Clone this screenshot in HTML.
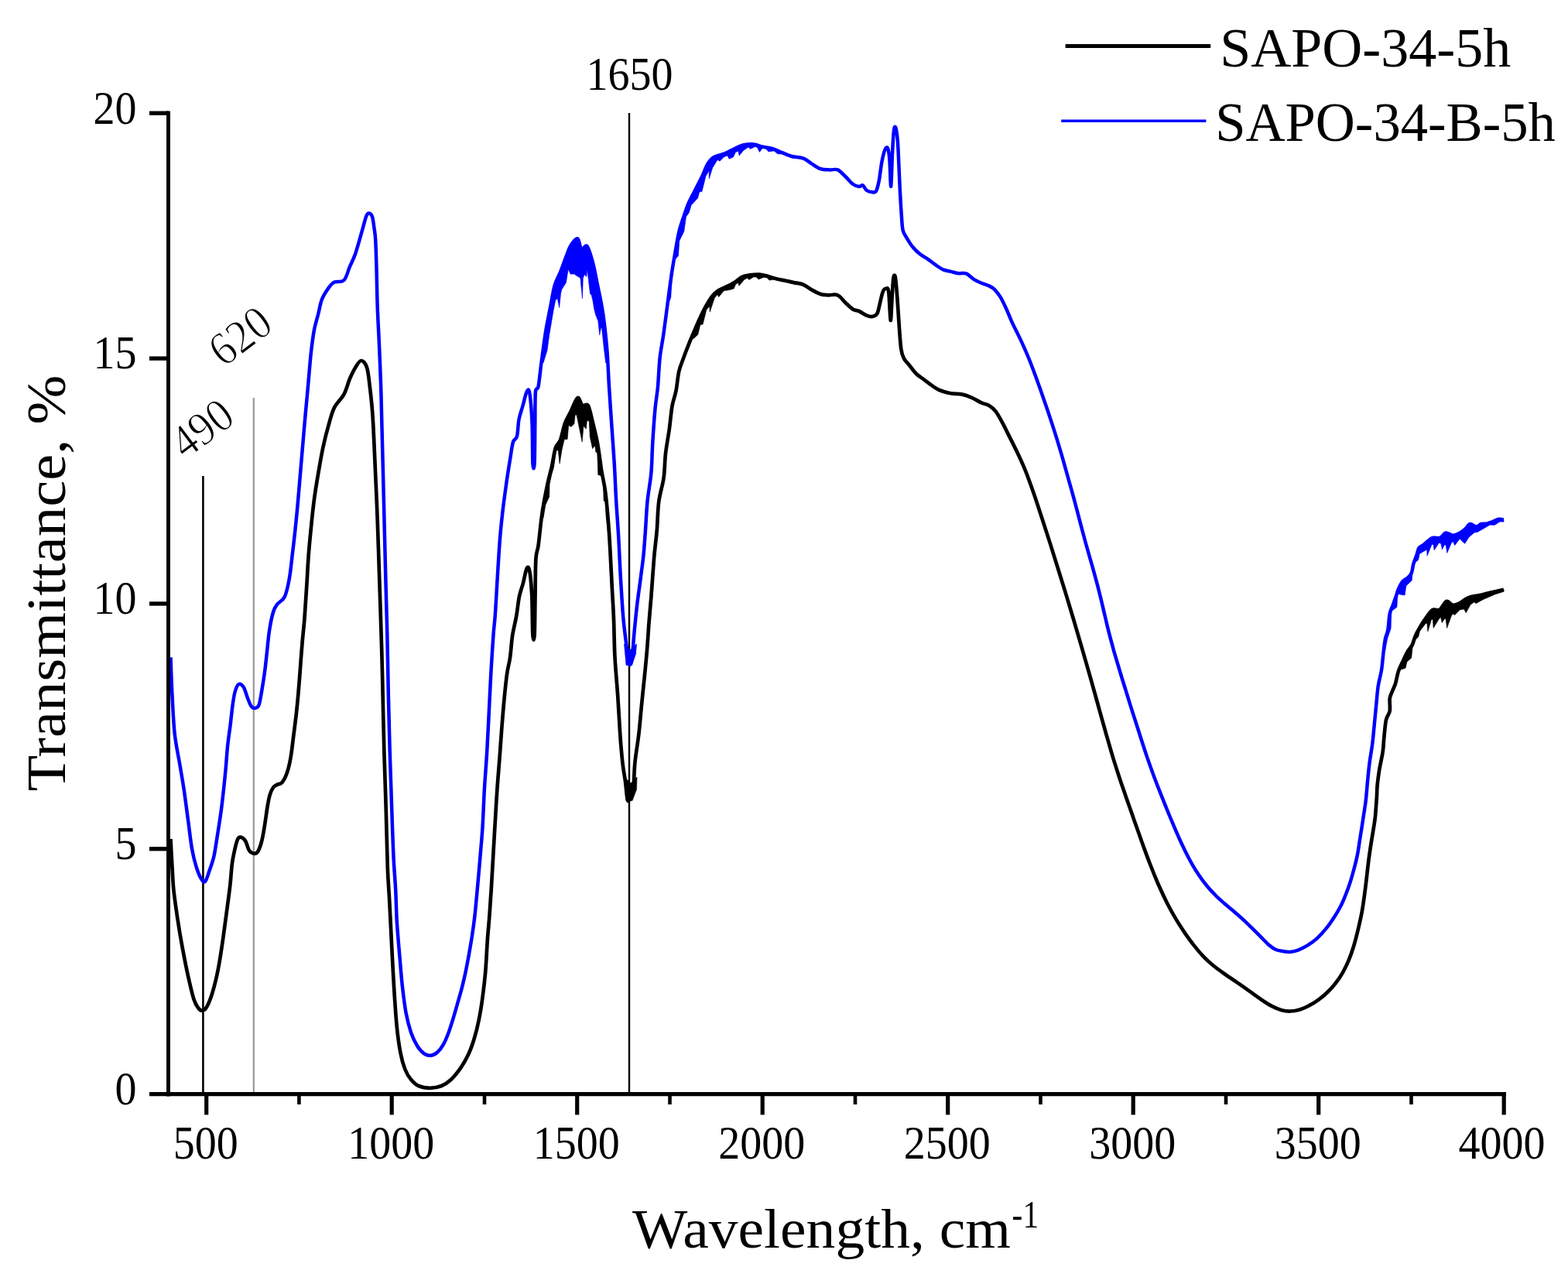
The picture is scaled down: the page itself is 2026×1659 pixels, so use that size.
<!DOCTYPE html>
<html lang="en">
<head>
<meta charset="utf-8">
<title>FTIR spectra: SAPO-34-5h and SAPO-34-B-5h</title>
<style>
html,body{margin:0;padding:0;background:#fff;}
body{width:2026px;height:1659px;overflow:hidden;font-family:'Liberation Serif',serif;}
svg{display:block;}
</style>
</head>
<body>
<svg width="2026" height="1659" viewBox="0 0 2026 1659">
<rect x="0" y="0" width="2026" height="1659" fill="#fff"/>
<line x1="262.4" y1="615" x2="262.4" y2="1413" stroke="#000" stroke-width="2.6"/>
<line x1="327.8" y1="514" x2="327.8" y2="1413" stroke="#999" stroke-width="2.2"/>
<line x1="813" y1="146" x2="813" y2="1413" stroke="#000" stroke-width="2.4"/>
<g fill="none" stroke-linejoin="round" stroke-linecap="butt">
<path id="curve-black" stroke="#000" stroke-width="4.7" d="M220.5 1084.0C220.8 1090.2 221.8 1109.8 222.5 1121.0C223.2 1132.2 223.3 1140.0 224.5 1151.0C225.7 1162.0 227.6 1174.8 229.4 1187.0C231.2 1199.2 233.3 1211.7 235.6 1224.0C237.9 1236.3 240.5 1249.8 243.0 1261.0C245.5 1272.2 248.1 1283.9 250.4 1290.9C252.7 1297.9 254.7 1300.5 256.6 1303.0C258.5 1305.5 260.0 1305.9 261.6 1305.7C263.2 1305.5 264.6 1305.0 266.5 1302.0C268.4 1299.0 270.6 1294.0 272.7 1288.0C274.8 1282.0 277.0 1273.8 278.9 1266.0C280.8 1258.2 282.2 1250.9 283.8 1241.4C285.4 1231.9 287.1 1220.6 288.7 1209.0C290.3 1197.4 292.2 1183.0 293.7 1172.0C295.1 1161.0 296.4 1152.3 297.4 1143.0C298.4 1133.7 298.9 1123.7 299.9 1116.0C300.9 1108.3 302.4 1101.9 303.6 1096.6C304.8 1091.3 306.0 1086.5 307.3 1084.0C308.6 1081.5 309.9 1081.3 311.5 1081.8C313.1 1082.2 315.4 1083.8 317.2 1086.7C319.0 1089.6 320.2 1096.3 322.1 1099.0C324.0 1101.7 326.5 1102.6 328.3 1102.8C330.1 1103.0 331.6 1103.0 333.2 1100.3C334.8 1097.6 336.8 1092.2 338.2 1086.7C339.6 1081.2 340.7 1074.5 341.9 1067.0C343.1 1059.5 344.5 1048.6 345.6 1042.0C346.7 1035.4 347.4 1031.5 348.6 1027.4C349.8 1023.3 351.4 1019.8 353.0 1017.5C354.6 1015.2 356.1 1014.8 358.0 1013.8C359.9 1012.8 362.1 1013.6 364.1 1011.3C366.2 1009.0 368.4 1005.1 370.3 1000.0C372.2 994.9 373.9 988.2 375.3 980.4C376.8 972.6 377.8 962.5 379.0 953.0C380.2 943.5 381.6 933.4 382.7 923.6C383.8 913.8 384.7 904.3 385.6 894.0C386.5 883.7 387.3 872.5 388.1 861.8C388.9 851.1 389.7 840.0 390.6 829.7C391.5 819.4 392.4 812.2 393.4 800.0C394.3 787.8 395.4 770.3 396.3 756.5C397.2 742.7 397.7 730.2 398.7 717.0C399.7 703.8 401.2 689.0 402.4 677.0C403.6 665.0 404.6 655.7 406.0 645.0C407.4 634.3 409.1 624.1 411.0 613.0C412.9 601.9 415.0 589.2 417.3 578.5C419.6 567.8 422.2 557.5 424.7 548.9C427.1 540.2 428.7 533.2 432.0 526.6C435.3 520.0 441.2 515.5 444.5 509.3C447.8 503.1 449.4 495.3 451.9 489.5C454.4 483.7 456.8 478.6 459.3 474.7C461.8 470.8 464.2 466.0 466.7 466.0C469.1 466.0 472.1 469.1 474.0 474.7C475.9 480.3 476.6 489.1 477.8 499.4C479.1 509.7 480.4 520.1 481.5 536.5C482.6 552.9 483.5 575.4 484.5 598.0C485.5 620.6 486.8 647.2 487.7 672.0C488.6 696.8 489.4 721.8 490.2 746.6C491.0 771.4 492.0 800.1 492.6 820.7C493.2 841.3 493.4 844.6 494.0 870.0C494.6 895.4 495.6 943.5 496.4 973.0C497.2 1002.5 498.1 1022.3 498.8 1047.0C499.5 1071.7 500.1 1102.2 500.8 1121.0C501.5 1139.8 502.3 1146.9 503.0 1160.0C503.7 1173.1 504.1 1182.6 505.0 1199.4C505.9 1216.2 507.0 1240.4 508.2 1261.0C509.4 1281.6 510.9 1306.5 512.4 1323.0C513.9 1339.5 515.5 1350.2 517.4 1360.0C519.2 1369.8 521.2 1376.2 523.5 1382.0C525.8 1387.8 528.1 1391.2 531.0 1394.7C533.9 1398.2 536.7 1401.2 540.8 1403.0C544.9 1404.8 550.8 1405.8 555.7 1405.8C560.7 1405.8 566.0 1404.8 570.5 1403.0C575.0 1401.2 578.8 1398.5 582.9 1394.7C587.0 1390.9 591.5 1385.2 595.2 1379.9C598.9 1374.6 602.2 1368.8 605.1 1362.6C608.0 1356.4 610.2 1350.2 612.5 1342.8C614.8 1335.4 616.9 1327.1 618.7 1318.0C620.6 1308.9 622.2 1298.7 623.6 1288.0C625.0 1277.3 626.4 1266.0 627.4 1253.8C628.4 1241.6 629.0 1226.5 629.8 1215.0C630.6 1203.5 631.5 1195.8 632.3 1184.6C633.1 1173.4 633.6 1166.8 634.8 1148.0C635.9 1129.2 638.0 1092.8 639.2 1071.9C640.4 1051.0 641.1 1038.9 642.2 1022.4C643.3 1005.9 644.8 989.5 646.0 973.0C647.2 956.5 648.3 940.1 649.7 923.6C651.1 907.1 653.1 886.3 654.6 874.0C656.1 861.7 657.7 858.9 659.0 850.0C660.3 841.1 660.8 829.7 662.2 820.7C663.6 811.7 665.8 804.3 667.2 796.0C668.7 787.7 669.5 778.0 670.9 771.0C672.3 764.0 674.1 760.2 675.8 754.0C677.4 747.8 679.3 736.5 680.8 734.0C682.2 731.5 683.4 732.8 684.5 739.0C685.6 745.2 686.6 757.4 687.3 771.0C687.9 784.6 687.8 812.2 688.4 820.5C689.0 828.8 690.1 828.8 690.6 820.5C691.1 812.2 691.2 787.4 691.5 771.0C691.8 754.6 691.7 733.0 692.4 721.9C693.1 710.8 694.5 712.9 695.6 704.6C696.8 696.3 698.1 681.5 699.3 672.0C700.5 662.5 701.5 655.9 703.0 647.7C704.5 639.5 706.4 630.5 708.0 623.0C709.6 615.5 711.2 610.4 712.9 603.0C714.5 595.6 716.0 584.2 717.9 578.5C719.8 572.8 722.0 574.0 724.0 568.6C726.0 563.2 727.9 552.6 730.2 546.4C732.5 540.2 734.9 537.0 737.6 531.6C740.3 526.2 743.8 515.3 746.3 514.0C748.8 512.7 750.2 522.3 752.5 524.0C754.8 525.7 757.6 520.3 759.9 524.0C762.1 527.7 764.0 538.1 766.0 546.4C768.0 554.7 770.3 563.3 772.2 573.6C774.1 583.9 775.6 597.8 777.2 608.0C778.9 618.2 780.7 624.3 782.1 635.0C783.5 645.7 784.8 659.6 785.8 672.0C786.8 684.4 787.5 695.0 788.3 709.5C789.1 724.0 790.0 743.9 790.8 759.0C791.6 774.1 792.4 784.9 793.0 800.0C793.6 815.1 793.6 832.9 794.5 849.4C795.4 865.9 797.1 882.4 798.2 898.9C799.3 915.4 800.2 933.9 801.2 948.3C802.2 962.7 803.3 975.1 804.4 985.4C805.5 995.7 807.0 1002.2 808.0 1010.0C809.0 1017.8 809.7 1028.1 810.5 1032.0C811.3 1035.9 811.8 1035.3 813.0 1033.6C814.2 1031.9 816.8 1030.0 818.0 1022.0C819.2 1014.0 819.2 997.7 820.4 985.4C821.6 973.1 824.0 960.7 825.4 948.3C826.8 935.9 827.8 923.4 829.0 911.0C830.2 898.6 831.6 885.8 832.8 874.0C834.0 862.2 835.0 851.5 836.0 840.0C837.0 828.5 837.6 816.5 838.5 805.0C839.4 793.5 840.3 784.9 841.4 771.0C842.5 757.1 843.8 736.3 845.0 721.9C846.2 707.5 847.8 697.2 848.8 684.8C849.8 672.4 849.8 658.8 851.3 647.7C852.8 636.6 856.0 628.3 857.5 618.0C859.0 607.7 858.8 596.7 860.0 586.0C861.2 575.3 863.5 564.1 864.9 553.8C866.3 543.5 867.1 532.2 868.6 524.0C870.1 515.8 872.2 511.8 873.6 504.4C875.0 497.0 875.7 486.6 877.3 479.7C878.9 472.8 881.0 468.7 883.0 463.0C885.0 457.3 887.3 451.4 889.6 445.6C891.9 439.8 894.5 433.8 897.0 428.0C899.5 422.2 901.9 416.3 904.4 411.0C906.9 405.7 909.4 400.5 911.9 396.0C914.4 391.5 916.8 387.1 919.3 383.8C921.8 380.5 923.8 378.5 926.7 376.4C929.6 374.3 932.9 373.3 936.6 371.4C940.3 369.5 945.2 367.3 948.9 365.0C952.6 362.7 955.5 359.4 958.8 357.8C962.1 356.2 965.0 355.9 968.7 355.4C972.4 354.9 977.3 354.4 981.0 354.6C984.7 354.8 987.3 355.7 991.0 356.6C994.7 357.6 999.2 359.3 1003.3 360.3C1007.4 361.3 1012.0 362.0 1015.7 362.8C1019.4 363.6 1021.9 364.2 1025.6 365.0C1029.3 365.8 1034.2 366.2 1037.9 367.7C1041.6 369.2 1044.1 371.8 1047.8 373.9C1051.5 375.9 1056.5 378.8 1060.2 380.0C1063.9 381.2 1066.3 381.1 1070.0 381.3C1073.7 381.5 1078.7 379.7 1082.4 381.3C1086.1 382.9 1089.0 387.9 1092.3 391.0C1095.6 394.1 1099.3 398.0 1102.2 399.8C1105.1 401.6 1107.0 400.7 1109.9 402.0C1112.8 403.3 1116.9 406.5 1119.8 407.7C1122.7 408.9 1124.9 409.4 1127.2 409.0C1129.5 408.6 1131.8 408.1 1133.4 405.2C1135.0 402.3 1135.8 396.3 1137.0 391.6C1138.2 386.9 1139.5 379.9 1140.8 376.8C1142.0 373.7 1143.3 373.0 1144.5 373.0C1145.7 373.0 1147.2 370.0 1148.2 376.8C1149.2 383.6 1150.0 412.7 1150.7 413.9C1151.4 415.1 1152.0 393.3 1152.6 384.2C1153.2 375.1 1153.7 363.8 1154.4 359.5C1155.1 355.2 1156.0 354.2 1156.8 358.3C1157.6 362.4 1158.5 373.7 1159.3 384.2C1160.1 394.7 1161.0 410.2 1161.8 421.3C1162.6 432.4 1163.3 444.0 1164.3 451.0C1165.3 458.0 1166.4 460.0 1168.0 463.3C1169.6 466.6 1171.3 467.4 1174.0 470.7C1176.7 474.0 1180.7 479.7 1184.0 483.0C1187.3 486.3 1190.6 488.0 1193.9 490.5C1197.2 493.0 1200.5 495.6 1203.8 497.9C1207.1 500.1 1209.6 502.3 1213.7 504.0C1217.8 505.7 1223.5 507.4 1228.5 508.3C1233.5 509.2 1238.9 508.7 1243.4 509.6C1247.9 510.5 1251.6 512.0 1255.7 513.8C1259.8 515.6 1264.3 518.7 1268.0 520.4C1271.7 522.1 1274.9 522.1 1278.0 524.0C1281.1 525.9 1283.7 527.9 1286.6 531.6C1289.5 535.3 1292.2 540.7 1295.3 546.4C1298.4 552.1 1301.8 559.3 1305.0 565.6C1308.2 572.0 1311.4 578.2 1314.4 584.6C1317.5 591.0 1320.3 597.1 1323.1 603.7C1325.9 610.3 1328.4 616.9 1331.0 624.2C1333.7 631.4 1336.2 639.0 1339.0 647.2C1341.7 655.4 1344.6 664.3 1347.6 673.6C1350.6 682.9 1353.9 692.8 1357.1 702.9C1360.3 713.0 1363.6 723.6 1366.9 734.2C1370.2 744.7 1373.5 755.4 1376.9 766.4C1380.2 777.4 1383.6 788.6 1387.1 800.2C1390.5 811.8 1394.1 823.9 1397.6 836.1C1401.1 848.3 1404.8 860.9 1408.3 873.4C1411.8 885.9 1415.4 898.7 1418.8 911.0C1422.2 923.2 1425.7 935.7 1428.8 946.8C1432.0 958.0 1434.9 968.3 1437.8 977.9C1440.7 987.4 1443.3 995.3 1446.1 1004.0C1449.0 1012.7 1451.9 1020.9 1455.0 1029.9C1458.1 1038.8 1461.5 1048.4 1464.8 1057.9C1468.2 1067.4 1471.6 1077.2 1475.0 1086.8C1478.5 1096.4 1482.0 1106.1 1485.6 1115.5C1489.2 1124.8 1493.0 1134.2 1496.7 1142.8C1500.5 1151.4 1504.4 1159.7 1508.2 1167.2C1512.1 1174.8 1515.9 1181.6 1519.8 1188.1C1523.7 1194.6 1527.5 1200.4 1531.4 1206.1C1535.3 1211.7 1539.1 1217.0 1543.0 1221.9C1546.8 1226.8 1550.6 1231.3 1554.7 1235.6C1558.7 1239.8 1562.8 1243.6 1567.3 1247.3C1571.8 1251.0 1576.6 1254.4 1581.7 1258.0C1586.7 1261.6 1592.3 1265.1 1597.7 1268.9C1603.1 1272.6 1608.8 1276.6 1614.1 1280.4C1619.4 1284.2 1624.6 1288.2 1629.6 1291.5C1634.5 1294.8 1639.2 1297.9 1643.6 1300.2C1648.0 1302.5 1652.1 1304.2 1656.1 1305.2C1660.1 1306.3 1663.8 1306.7 1667.7 1306.5C1671.6 1306.4 1675.5 1305.6 1679.5 1304.4C1683.4 1303.2 1687.6 1301.4 1691.6 1299.2C1695.7 1297.1 1699.9 1294.5 1703.8 1291.6C1707.8 1288.7 1711.8 1285.4 1715.5 1281.8C1719.1 1278.2 1722.7 1274.3 1725.9 1270.0C1729.2 1265.8 1732.3 1261.2 1735.1 1256.3C1737.9 1251.3 1740.5 1246.0 1742.8 1240.4C1745.2 1234.7 1747.2 1228.8 1749.2 1222.3C1751.1 1215.9 1752.9 1209.0 1754.6 1201.8C1756.3 1194.5 1758.1 1186.9 1759.6 1179.0C1761.1 1171.1 1762.2 1162.6 1763.3 1154.4C1764.4 1146.2 1765.5 1136.7 1766.3 1129.7C1767.1 1122.7 1767.6 1117.9 1768.3 1112.4C1769.0 1106.9 1769.5 1103.3 1770.5 1096.6C1771.5 1089.8 1773.4 1078.8 1774.5 1071.9C1775.6 1065.1 1776.2 1062.3 1776.9 1055.5C1777.6 1048.7 1778.3 1037.8 1778.8 1031.0C1779.2 1024.2 1779.1 1020.8 1779.6 1015.0C1780.1 1009.2 1781.2 1001.3 1782.0 996.0C1782.8 990.7 1783.7 987.3 1784.5 983.0C1785.3 978.7 1786.2 975.4 1786.9 970.0C1787.6 964.6 1787.8 957.6 1788.5 950.9C1789.2 944.2 1789.8 935.4 1791.0 930.0C1792.2 924.6 1794.9 923.3 1795.7 918.7C1796.5 914.1 1795.2 906.9 1795.7 902.6C1796.2 898.3 1797.8 896.2 1799.0 893.0C1800.2 889.8 1801.7 887.6 1803.0 883.3C1804.3 879.0 1805.4 871.8 1807.0 867.0C1808.6 862.2 1810.6 858.6 1812.6 854.4C1814.6 850.1 1817.0 845.0 1819.0 841.5C1821.0 838.0 1823.1 836.6 1824.7 833.4C1826.3 830.1 1827.1 825.7 1828.7 822.0C1830.3 818.3 1832.2 814.7 1834.4 811.0C1836.6 807.3 1838.8 803.5 1841.6 799.7C1844.4 795.9 1847.9 790.0 1851.0 788.0C1854.1 786.0 1857.0 789.8 1860.0 788.0C1863.0 786.2 1866.2 778.0 1869.0 777.0C1871.8 776.0 1874.3 781.3 1877.0 781.8C1879.7 782.3 1882.3 781.2 1885.0 780.0C1887.7 778.8 1890.6 776.0 1893.0 774.6C1895.4 773.2 1896.3 772.3 1899.5 771.4C1902.7 770.5 1908.1 770.0 1912.4 769.0C1916.7 768.0 1921.3 766.7 1925.3 765.7C1929.3 764.8 1933.5 764.0 1936.5 763.3C1939.5 762.6 1941.9 762.0 1943.0 761.7"/>
<path fill="#000" stroke="#000" stroke-width="0.6" d="M699.3 672.0L703.0 647.7L708.0 623.0L712.9 603.0L717.9 578.5L724.0 568.6L730.2 546.4L737.6 531.6L746.3 514.0L752.5 524.0L759.9 524.0L766.0 546.4L772.2 573.6L777.2 608.0L782.1 635.0L785.8 672.0L788.3 709.5L783.2 668.0L782.4 647.3L780.1 647.2L779.3 614.8L777.0 614.8L772.8 613.5L771.7 584.3L769.9 584.3L768.7 575.6L765.6 579.8L762.3 564.6L761.2 543.8L758.4 543.7L757.3 554.2L754.0 550.3L752.2 571.1L745.0 536.0L743.1 536.2L741.9 547.7L737.9 551.4L734.7 549.5L733.1 567.6L729.2 567.8L726.2 580.3L723.1 599.2L721.3 581.9L718.6 582.0L715.5 603.9L712.9 612.5L710.1 625.5L709.7 641.8L704.8 652.6L702.1 668.9ZM897.0 428.0L904.4 411.0L911.9 396.0L919.3 383.8L926.7 376.4L936.6 371.4L948.9 365.0L958.8 357.8L968.7 355.4L981.0 354.6L991.0 356.6L1003.3 360.3L1015.7 362.8L1025.6 365.0L1029.3 368.1L1014.6 364.3L1000.0 361.0L994.0 362.1L990.9 358.8L987.0 358.2L980.0 360.9L977.4 358.0L973.6 357.9L968.0 361.4L965.6 359.2L961.7 361.3L954.9 369.3L953.8 365.4L950.7 367.2L948.1 373.0L942.8 374.5L935.4 375.7L928.5 383.8L927.1 380.6L923.3 384.9L917.2 403.2L916.9 395.7L912.8 400.3L908.1 419.0L904.8 419.7L901.8 432.2L895.7 437.9ZM1807.0 867.0L1812.6 854.4L1819.0 841.5L1824.7 833.4L1828.7 822.0L1834.4 811.0L1841.6 799.7L1851.0 788.0L1860.0 788.0L1869.0 777.0L1877.0 781.8L1885.0 780.0L1893.0 774.6L1899.5 771.4L1912.4 769.0L1925.3 765.7L1936.5 763.3L1943.0 761.7L1942.8 764.4L1931.5 768.1L1916.6 774.5L1907.2 779.7L1904.7 778.1L1900.0 781.3L1894.2 791.8L1891.7 787.0L1886.2 787.9L1879.6 794.8L1877.8 793.2L1875.7 794.8L1869.6 811.5L1868.0 799.2L1866.4 799.8L1863.2 804.5L1861.6 797.6L1859.3 799.8L1852.1 811.4L1851.4 800.7L1849.7 800.0L1844.8 815.9L1843.9 805.3L1842.2 805.5L1834.5 815.4L1832.6 823.1L1828.4 826.8L1825.1 836.2L1823.7 850.1L1817.9 855.2L1816.0 863.2L1809.1 865.4ZM806.8 1004.0L809.0 1034.5L817.0 1034.5L822.5 1020.0L823.0 1004.0L815.0 1012.0Z"/>
<path id="curve-blue" stroke="#0000ff" stroke-width="4.5" d="M220.5 849.4C220.8 857.6 221.6 882.4 222.5 898.9C223.4 915.4 224.1 933.9 225.7 948.3C227.3 962.7 229.8 973.0 231.9 985.4C234.0 997.8 236.2 1010.0 238.0 1022.4C239.8 1034.8 241.3 1047.1 243.0 1059.5C244.7 1071.9 246.2 1086.3 248.0 1096.6C249.8 1106.9 251.9 1114.7 254.0 1121.3C256.1 1127.9 258.4 1133.1 260.3 1136.0C262.2 1138.9 263.7 1140.3 265.3 1138.6C266.9 1136.9 268.4 1131.3 270.2 1126.0C272.0 1120.7 274.5 1114.7 276.4 1106.5C278.2 1098.3 279.7 1086.7 281.3 1076.8C282.9 1066.9 284.6 1056.1 285.8 1047.0C287.0 1037.9 287.7 1031.4 288.7 1022.4C289.7 1013.4 290.8 1002.7 291.7 992.8C292.6 982.9 293.2 972.1 294.2 963.0C295.1 953.9 296.3 947.1 297.4 938.4C298.5 929.7 299.6 918.4 300.6 911.0C301.6 903.6 302.3 898.5 303.6 894.0C304.9 889.5 306.6 885.0 308.5 884.0C310.4 883.0 312.8 884.9 314.7 887.7C316.6 890.5 318.0 896.9 319.6 901.0C321.2 905.1 323.0 910.2 324.6 912.5C326.2 914.8 327.9 915.2 329.5 915.0C331.1 914.8 333.1 914.5 334.5 911.0C335.9 907.5 336.8 901.0 338.0 894.0C339.2 887.0 340.7 877.7 341.9 869.0C343.1 860.3 344.0 851.0 345.0 842.0C346.0 833.0 346.7 823.5 348.0 815.0C349.3 806.5 351.3 796.7 353.0 791.0C354.7 785.3 355.5 784.3 358.0 781.0C360.5 777.7 365.1 776.7 367.8 771.0C370.5 765.3 372.4 755.6 374.0 746.6C375.6 737.6 376.5 727.3 377.7 717.0C378.9 706.7 380.2 696.3 381.4 684.8C382.6 673.2 383.8 661.3 385.0 647.7C386.2 634.1 387.5 618.6 388.8 603.0C390.1 587.4 391.6 570.2 393.0 553.8C394.4 537.4 396.2 518.4 397.5 504.4C398.8 490.4 399.7 478.9 400.5 470.0C401.3 461.1 401.5 458.3 402.4 451.0C403.3 443.7 404.6 433.4 406.0 426.0C407.4 418.6 409.3 413.1 411.0 406.5C412.7 399.9 413.7 392.5 416.0 386.7C418.3 380.9 422.0 375.6 424.7 371.9C427.4 368.2 428.7 366.1 432.0 364.5C435.3 362.9 441.2 365.3 444.5 362.0C447.8 358.7 449.4 350.5 451.9 344.7C454.4 338.9 456.6 335.2 459.3 327.4C462.0 319.6 465.7 305.6 468.0 297.7C470.3 289.8 471.6 283.7 473.0 280.0C474.4 276.3 475.3 275.5 476.6 275.5C477.9 275.5 479.9 276.8 481.0 280.0C482.1 283.2 482.8 290.0 483.5 295.0C484.2 300.0 484.7 301.3 485.2 310.0C485.7 318.7 486.1 332.6 486.5 347.0C486.9 361.4 487.1 380.1 487.7 396.6C488.3 413.1 489.3 429.5 490.0 446.0C490.7 462.5 491.4 478.3 492.0 495.5C492.6 512.7 492.8 523.6 493.4 549.0C494.0 574.4 495.1 614.8 495.9 647.7C496.7 680.6 497.6 717.9 498.3 746.6C499.0 775.3 499.7 794.4 500.3 820.0C500.9 845.6 501.3 875.4 501.9 900.0C502.4 924.6 503.0 947.8 503.6 967.5C504.2 987.2 504.7 1001.3 505.3 1018.2C505.9 1035.1 506.4 1053.3 507.0 1068.8C507.6 1084.3 508.0 1097.5 508.7 1111.0C509.4 1124.5 510.5 1136.5 511.2 1150.0C511.9 1163.5 512.0 1178.1 512.9 1192.2C513.8 1206.3 515.1 1220.7 516.3 1234.4C517.5 1248.1 518.5 1262.2 519.9 1274.5C521.3 1286.8 522.7 1298.4 524.5 1308.3C526.4 1318.2 528.6 1326.7 531.0 1334.0C533.5 1341.3 536.6 1347.4 539.5 1352.0C542.4 1356.5 545.5 1359.7 548.4 1361.6C551.3 1363.6 554.0 1364.1 556.8 1363.7C559.6 1363.4 562.6 1361.9 565.2 1359.5C567.9 1357.2 570.5 1353.7 572.8 1349.6C575.1 1345.6 577.2 1340.6 579.2 1335.3C581.2 1330.0 583.0 1324.1 584.9 1318.0C586.8 1311.8 588.7 1305.1 590.6 1298.5C592.5 1291.9 594.5 1285.2 596.3 1278.3C598.1 1271.4 599.7 1264.6 601.3 1257.2C602.9 1249.8 604.3 1242.0 605.8 1234.0C607.2 1225.9 608.7 1217.4 610.0 1209.0C611.3 1200.6 612.4 1192.8 613.4 1183.8C614.4 1174.8 615.1 1167.1 616.2 1155.0C617.3 1142.9 618.9 1125.4 620.1 1111.0C621.3 1096.6 622.5 1084.3 623.5 1068.8C624.5 1053.3 625.0 1035.1 626.0 1018.2C627.0 1001.3 628.3 987.2 629.4 967.5C630.5 947.8 631.9 917.6 632.8 900.0C633.7 882.4 634.0 875.1 634.8 861.8C635.6 848.5 636.7 831.0 637.5 820.0C638.3 809.0 638.8 808.2 639.7 796.0C640.6 783.8 641.7 763.1 642.7 746.6C643.7 730.1 644.8 711.4 645.9 697.0C647.0 682.6 648.2 672.3 649.6 660.0C651.0 647.7 652.9 634.5 654.5 623.0C656.1 611.5 658.1 599.6 659.5 590.9C660.9 582.2 661.6 575.5 663.0 571.0C664.4 566.5 666.7 568.6 668.0 563.7C669.3 558.8 669.3 548.0 670.6 541.4C671.9 534.8 673.9 530.0 675.6 524.0C677.3 518.0 679.3 508.1 680.8 505.6C682.3 503.1 683.4 501.8 684.5 509.0C685.6 516.2 687.0 533.9 687.6 548.9C688.2 563.9 687.9 590.6 688.4 599.0C688.9 607.4 690.1 607.4 690.6 599.0C691.1 590.6 691.1 564.3 691.3 548.9C691.5 533.5 691.2 515.0 691.9 506.8C692.6 498.6 694.4 505.5 695.6 499.4C696.8 493.3 698.2 478.2 699.3 470.0C700.4 461.8 701.0 457.4 702.0 450.0C703.0 442.6 703.9 435.2 705.5 425.8C707.1 416.4 709.9 403.2 711.7 393.7C713.6 384.2 714.6 376.0 716.6 369.0C718.6 362.0 721.5 357.8 724.0 351.6C726.5 345.4 729.1 337.7 731.4 331.9C733.7 326.1 735.1 320.9 737.6 317.0C740.1 313.1 744.0 307.6 746.3 308.4C748.6 309.2 749.2 320.4 751.2 322.0C753.2 323.6 756.1 315.4 758.6 318.3C761.1 321.2 763.7 330.9 766.0 339.3C768.3 347.8 770.3 359.9 772.2 369.0C774.1 378.1 775.8 385.5 777.2 393.7C778.7 401.9 779.7 408.1 780.9 418.4C782.1 428.7 783.6 442.0 784.6 455.5C785.6 469.0 786.0 483.8 787.0 499.4C788.0 515.0 789.2 532.5 790.3 548.9C791.4 565.3 792.7 581.5 793.7 598.0C794.7 614.5 795.2 631.2 796.2 647.7C797.2 664.2 798.5 680.5 799.4 697.0C800.3 713.5 800.9 730.1 801.9 746.6C802.9 763.1 803.9 781.6 805.1 796.0C806.3 810.4 808.0 822.7 809.3 833.0C810.6 843.3 811.8 855.2 813.0 858.0C814.2 860.8 815.7 856.2 816.7 850.0C817.7 843.8 818.2 831.8 819.2 820.7C820.2 809.7 821.5 796.1 822.9 783.7C824.3 771.4 826.4 757.7 827.8 746.6C829.2 735.5 830.5 727.3 831.5 717.0C832.5 706.7 833.2 696.3 834.0 684.8C834.8 673.2 835.3 660.1 836.5 647.7C837.7 635.4 840.3 623.1 841.4 610.7C842.5 598.4 842.4 587.2 843.2 573.6C844.0 560.0 845.3 541.4 846.4 529.0C847.5 516.6 849.0 510.5 850.0 499.4C851.0 488.3 851.4 473.8 852.6 462.4C853.9 450.9 855.9 442.1 857.5 430.7C859.1 419.2 860.8 406.0 862.4 393.7C864.0 381.4 865.8 367.7 867.4 356.6C869.0 345.5 870.6 336.4 872.3 326.9C873.9 317.4 875.4 307.5 877.3 299.7C879.1 291.9 881.3 286.2 883.4 280.0C885.5 273.8 887.5 267.6 889.6 262.7C891.7 257.8 893.7 254.4 895.8 250.3C897.9 246.2 899.9 242.1 902.0 238.0C904.1 233.9 906.2 229.9 908.2 225.6C910.2 221.3 912.0 215.7 914.3 212.0C916.6 208.3 918.1 205.7 921.8 203.4C925.5 201.1 932.1 200.3 936.6 198.4C941.1 196.5 944.8 194.0 948.9 192.2C953.0 190.3 957.2 188.2 961.3 187.3C965.4 186.4 969.6 186.1 973.7 186.5C977.8 186.9 981.9 188.9 986.0 189.8C990.1 190.8 994.3 191.0 998.4 192.2C1002.5 193.4 1006.6 195.6 1010.7 197.2C1014.8 198.8 1018.6 200.8 1023.1 202.0C1027.6 203.2 1033.8 203.1 1037.9 204.6C1042.0 206.1 1044.1 208.5 1047.8 210.8C1051.5 213.1 1056.1 216.8 1060.2 218.2C1064.3 219.6 1068.8 219.2 1072.5 219.4C1076.2 219.6 1079.1 218.0 1082.4 219.4C1085.7 220.8 1089.0 224.9 1092.3 228.0C1095.6 231.1 1099.3 235.8 1102.2 238.0C1105.1 240.2 1107.8 240.7 1109.9 240.9C1112.0 241.2 1113.2 238.7 1114.8 239.5C1116.4 240.3 1117.7 244.5 1119.8 246.0C1121.9 247.5 1125.2 248.1 1127.2 248.3C1129.2 248.5 1130.6 249.5 1132.0 247.0C1133.4 244.5 1134.5 239.9 1135.8 233.5C1137.0 227.1 1138.2 215.4 1139.5 208.8C1140.8 202.2 1142.0 196.8 1143.3 193.9C1144.5 191.0 1146.0 189.3 1147.0 191.4C1148.0 193.5 1148.7 198.1 1149.4 206.3C1150.1 214.6 1150.6 242.1 1151.2 240.9C1151.8 239.7 1152.4 210.9 1153.0 198.9C1153.6 186.9 1154.2 174.9 1154.9 169.2C1155.6 163.5 1156.5 162.7 1157.3 164.8C1158.1 166.9 1159.1 173.9 1159.8 181.6C1160.5 189.3 1160.8 200.1 1161.3 211.2C1161.8 222.3 1162.4 237.2 1163.0 248.3C1163.6 259.4 1164.2 269.8 1164.8 278.0C1165.4 286.2 1165.5 292.8 1166.7 297.7C1167.9 302.6 1169.7 304.1 1171.7 307.6C1173.8 311.1 1176.1 315.2 1179.0 318.7C1181.9 322.2 1185.7 325.9 1189.0 328.6C1192.3 331.3 1195.6 332.5 1198.9 334.8C1202.2 337.1 1205.5 339.9 1208.8 342.2C1212.1 344.5 1215.3 346.9 1218.6 348.4C1221.9 349.8 1225.2 350.1 1228.5 350.9C1231.8 351.7 1235.1 352.9 1238.4 353.3C1241.7 353.7 1245.0 352.1 1248.3 353.3C1251.6 354.6 1254.9 358.7 1258.2 360.8C1261.5 362.9 1264.7 364.3 1268.0 365.7C1271.3 367.1 1275.1 368.0 1278.0 369.4C1280.9 370.8 1282.9 371.8 1285.4 374.3C1287.9 376.8 1290.3 380.1 1292.8 384.2C1295.3 388.3 1297.7 393.6 1300.2 399.0C1302.7 404.4 1305.1 411.0 1307.6 416.4C1310.1 421.8 1312.5 426.2 1315.0 431.4C1317.5 436.5 1320.0 441.6 1322.4 447.1C1324.9 452.6 1327.4 458.3 1329.9 464.5C1332.4 470.7 1334.8 477.2 1337.4 484.2C1340.1 491.3 1342.7 498.9 1345.5 506.8C1348.3 514.8 1351.3 523.4 1354.2 532.0C1357.1 540.7 1360.1 549.8 1362.9 558.6C1365.7 567.4 1368.4 576.4 1370.9 584.9C1373.4 593.4 1375.6 601.6 1377.9 609.6C1380.1 617.6 1382.3 625.1 1384.4 632.7C1386.5 640.3 1388.5 647.6 1390.5 655.2C1392.5 662.7 1394.4 670.3 1396.5 678.1C1398.6 685.9 1400.7 694.0 1402.9 702.0C1405.1 709.9 1407.5 718.0 1409.7 725.8C1411.9 733.6 1414.1 741.3 1416.1 748.9C1418.2 756.5 1420.1 764.0 1421.9 771.5C1423.8 779.0 1425.4 786.3 1427.2 793.8C1429.0 801.2 1430.5 808.3 1432.6 816.4C1434.7 824.6 1437.0 833.0 1439.7 842.8C1442.5 852.5 1445.8 863.6 1449.3 875.0C1452.8 886.3 1456.8 899.1 1460.5 911.1C1464.3 923.1 1468.3 935.7 1471.9 946.8C1475.4 958.0 1478.8 968.3 1482.0 977.9C1485.3 987.4 1488.1 995.3 1491.3 1004.0C1494.6 1012.7 1497.8 1020.9 1501.4 1029.9C1504.9 1038.8 1508.8 1048.4 1512.6 1057.5C1516.4 1066.6 1520.3 1076.0 1524.2 1084.5C1528.0 1092.9 1531.9 1100.9 1535.7 1108.2C1539.6 1115.5 1543.4 1122.1 1547.3 1128.0C1551.2 1134.0 1555.0 1139.3 1558.9 1144.0C1562.8 1148.8 1566.6 1152.9 1570.5 1156.7C1574.3 1160.6 1578.2 1163.9 1582.0 1167.3C1585.9 1170.6 1589.7 1173.7 1593.6 1177.0C1597.5 1180.3 1601.3 1183.7 1605.2 1187.2C1609.0 1190.7 1612.9 1194.5 1616.7 1198.2C1620.6 1202.0 1624.4 1205.9 1628.3 1209.7C1632.2 1213.6 1636.5 1218.4 1639.9 1221.3C1643.3 1224.2 1645.6 1225.7 1648.6 1227.0C1651.6 1228.3 1655.0 1228.6 1658.0 1229.1C1661.0 1229.6 1663.7 1230.1 1666.9 1229.9C1670.1 1229.6 1673.5 1229.0 1677.2 1227.6C1680.9 1226.3 1685.1 1224.2 1689.2 1221.7C1693.2 1219.2 1697.5 1216.2 1701.5 1212.6C1705.5 1209.0 1709.6 1204.5 1713.3 1199.9C1717.0 1195.4 1720.6 1190.1 1723.8 1185.2C1727.0 1180.3 1729.9 1175.4 1732.4 1170.5C1735.0 1165.5 1736.9 1160.7 1738.9 1155.6C1740.9 1150.6 1742.7 1145.7 1744.5 1140.1C1746.3 1134.5 1748.1 1128.0 1749.7 1122.0C1751.3 1116.0 1752.8 1110.3 1754.0 1104.0C1755.2 1097.7 1756.0 1091.4 1757.2 1084.0C1758.4 1076.6 1759.8 1067.7 1761.0 1059.5C1762.2 1051.3 1763.7 1043.0 1764.7 1034.8C1765.7 1026.5 1766.2 1018.2 1767.0 1010.0C1767.8 1001.8 1768.5 993.6 1769.6 985.4C1770.6 977.2 1772.3 968.9 1773.3 960.7C1774.3 952.5 1775.0 944.3 1775.8 936.0C1776.6 927.7 1777.4 919.2 1778.2 911.0C1779.0 902.8 1779.6 894.0 1780.7 886.5C1781.8 879.0 1783.8 873.5 1785.0 866.0C1786.2 858.5 1786.9 848.2 1787.7 841.4C1788.5 834.6 1789.1 829.6 1790.0 825.0C1790.9 820.4 1792.3 819.3 1793.3 814.0C1794.2 808.7 1794.6 798.4 1795.7 793.0C1796.8 787.6 1798.5 785.5 1799.8 781.8C1801.1 778.1 1802.6 774.1 1803.8 770.6C1805.0 767.1 1805.5 764.2 1807.0 760.9C1808.5 757.6 1810.6 753.4 1812.6 751.0C1814.6 748.6 1817.1 748.2 1819.0 746.4C1820.9 744.6 1822.7 743.0 1823.9 740.0C1825.1 737.0 1825.2 732.5 1826.3 728.7C1827.4 725.0 1829.1 721.0 1830.3 717.5C1831.5 714.0 1832.2 709.9 1833.5 707.8C1834.8 705.6 1836.9 705.7 1838.4 704.6C1839.9 703.5 1840.3 703.0 1842.4 701.4C1844.5 699.8 1847.9 696.0 1851.0 694.9C1854.1 693.8 1858.1 696.0 1860.9 694.9C1863.7 693.8 1865.3 689.0 1868.0 688.5C1870.7 688.0 1874.2 691.6 1877.0 691.7C1879.8 691.8 1882.3 690.6 1885.0 689.3C1887.7 688.0 1890.6 685.8 1893.0 683.7C1895.4 681.7 1897.1 677.5 1899.5 677.0C1901.9 676.5 1905.2 680.5 1907.6 680.5C1910.0 680.5 1911.6 677.7 1914.0 677.0C1916.4 676.3 1919.6 676.9 1922.0 676.4C1924.4 675.9 1926.1 674.9 1928.5 674.0C1930.9 673.1 1934.1 671.2 1936.5 670.8C1938.9 670.4 1941.9 671.5 1943.0 671.6"/>
<path fill="#0000ff" stroke="#0000ff" stroke-width="0.6" d="M702.0 450.0L705.5 425.8L711.7 393.7L716.6 369.0L724.0 351.6L731.4 331.9L737.6 317.0L746.3 308.4L751.2 322.0L758.6 318.3L766.0 339.3L772.2 369.0L777.2 393.7L780.9 418.4L784.6 455.5L782.7 469.0L780.1 447.9L777.5 423.4L776.4 423.9L774.8 432.9L772.8 414.8L769.6 406.8L767.8 399.7L766.0 388.7L764.3 381.6L762.5 379.6L758.8 348.3L757.7 357.6L755.3 354.5L753.3 359.4L752.5 385.7L749.9 359.3L741.4 353.9L737.2 354.2L734.2 348.1L731.4 365.2L725.7 374.3L724.5 379.7L722.7 397.6L720.3 385.8L717.9 387.4L715.2 400.5L709.7 432.9L707.1 452.6L702.0 468.9ZM857.5 430.7L862.4 393.7L867.4 356.6L872.3 326.9L877.3 299.7L883.4 280.0L889.6 262.7L895.8 250.3L902.0 238.0L908.2 225.6L914.3 212.0L921.8 203.4L936.6 198.4L948.9 192.2L961.3 187.3L973.7 186.5L986.0 189.8L998.4 192.2L1010.7 197.2L1023.1 202.0L1029.2 204.8L1022.7 203.9L1011.3 199.1L1004.7 198.8L1000.1 194.9L992.9 195.9L989.1 191.4L985.3 191.6L981.4 196.5L978.4 190.5L975.7 189.6L969.4 192.6L967.1 190.1L960.9 194.2L955.1 200.9L953.9 195.3L950.4 196.7L947.5 203.0L942.0 205.3L940.0 200.9L935.6 202.8L930.0 208.3L927.1 206.4L920.6 216.9L916.3 231.0L916.1 220.7L912.0 227.5L907.0 247.4L903.7 248.1L901.7 255.8L893.2 265.1L890.3 274.8L886.5 280.1L883.8 299.1L877.8 311.3L876.5 330.5L871.6 335.9L868.7 349.0L866.8 384.5L862.7 394.6L860.4 410.9ZM1787.7 841.4L1790.0 825.0L1793.3 814.0L1795.7 793.0L1799.8 781.8L1803.8 770.6L1807.0 760.9L1812.6 751.0L1819.0 746.4L1823.9 740.0L1826.3 728.7L1830.3 717.5L1833.5 707.8L1838.4 704.6L1842.4 701.4L1851.0 694.9L1860.9 694.9L1868.0 688.5L1877.0 691.7L1885.0 689.3L1893.0 683.7L1899.5 677.0L1907.6 680.5L1914.0 677.0L1922.0 676.4L1928.5 674.0L1936.5 670.8L1943.0 671.6L1943.0 674.2L1938.1 674.0L1931.2 678.4L1925.1 678.2L1916.9 683.0L1908.7 687.7L1905.0 688.1L1897.9 694.2L1892.8 702.3L1890.2 700.3L1886.1 696.3L1879.6 704.7L1877.8 699.9L1875.7 700.7L1869.8 714.4L1868.2 704.6L1866.6 703.8L1863.4 709.9L1861.8 702.2L1859.3 701.4L1853.2 710.8L1851.9 703.5L1850.1 703.4L1844.0 718.3L1843.8 710.5L1842.0 711.1L1834.3 715.6L1832.5 723.6L1828.4 726.9L1825.2 739.9L1824.2 750.0L1816.9 756.9L1815.1 769.0L1811.1 768.5L1806.0 767.2L1804.9 784.5L1797.8 789.8L1797.1 812.3L1792.7 825.1L1789.5 841.3ZM806.5 832.0L809.0 859.5L816.5 859.5L821.5 845.0L822.5 832.0L814.0 840.0Z"/>
</g>
<g stroke="#000" fill="none"><line x1="217.5" y1="143.5" x2="217.5" y2="1416.4" stroke-width="4.9"/><line x1="193.0" y1="1413.7" x2="1946.0" y2="1413.7" stroke-width="5.3"/><line x1="193.0" y1="1096.8" x2="217.5" y2="1096.8" stroke-width="5.3"/><line x1="193.0" y1="780.0" x2="217.5" y2="780.0" stroke-width="5.3"/><line x1="193.0" y1="463.1" x2="217.5" y2="463.1" stroke-width="5.3"/><line x1="193.0" y1="146.2" x2="217.5" y2="146.2" stroke-width="5.3"/><line x1="266.7" y1="1413.7" x2="266.7" y2="1440.4" stroke-width="5.2"/><line x1="506.2" y1="1413.7" x2="506.2" y2="1440.4" stroke-width="5.2"/><line x1="745.7" y1="1413.7" x2="745.7" y2="1440.4" stroke-width="5.2"/><line x1="985.2" y1="1413.7" x2="985.2" y2="1440.4" stroke-width="5.2"/><line x1="1224.7" y1="1413.7" x2="1224.7" y2="1440.4" stroke-width="5.2"/><line x1="1464.2" y1="1413.7" x2="1464.2" y2="1440.4" stroke-width="5.2"/><line x1="1703.7" y1="1413.7" x2="1703.7" y2="1440.4" stroke-width="5.2"/><line x1="1943.2" y1="1413.7" x2="1943.2" y2="1440.4" stroke-width="5.2"/><line x1="386.4" y1="1413.7" x2="386.4" y2="1427.0" stroke-width="4.6"/><line x1="626.0" y1="1413.7" x2="626.0" y2="1427.0" stroke-width="4.6"/><line x1="865.5" y1="1413.7" x2="865.5" y2="1427.0" stroke-width="4.6"/><line x1="1105.0" y1="1413.7" x2="1105.0" y2="1427.0" stroke-width="4.6"/><line x1="1344.5" y1="1413.7" x2="1344.5" y2="1427.0" stroke-width="4.6"/><line x1="1584.0" y1="1413.7" x2="1584.0" y2="1427.0" stroke-width="4.6"/><line x1="1823.5" y1="1413.7" x2="1823.5" y2="1427.0" stroke-width="4.6"/></g>
<g font-family="'Liberation Serif', serif" font-size="61" fill="#000"><text x="265.7" y="1496.8" text-anchor="middle" textLength="84.0" lengthAdjust="spacingAndGlyphs">500</text><text x="505.2" y="1496.8" text-anchor="middle" textLength="112.0" lengthAdjust="spacingAndGlyphs">1000</text><text x="744.7" y="1496.8" text-anchor="middle" textLength="112.0" lengthAdjust="spacingAndGlyphs">1500</text><text x="984.2" y="1496.8" text-anchor="middle" textLength="112.0" lengthAdjust="spacingAndGlyphs">2000</text><text x="1223.7" y="1496.8" text-anchor="middle" textLength="112.0" lengthAdjust="spacingAndGlyphs">2500</text><text x="1463.2" y="1496.8" text-anchor="middle" textLength="112.0" lengthAdjust="spacingAndGlyphs">3000</text><text x="1702.7" y="1496.8" text-anchor="middle" textLength="112.0" lengthAdjust="spacingAndGlyphs">3500</text><text x="1940.6" y="1496.8" text-anchor="middle" textLength="112.0" lengthAdjust="spacingAndGlyphs">4000</text><text x="176.5" y="1427.0" text-anchor="end" textLength="28.0" lengthAdjust="spacingAndGlyphs">0</text><text x="176.5" y="1110.1" text-anchor="end" textLength="28.0" lengthAdjust="spacingAndGlyphs">5</text><text x="176.5" y="793.2" text-anchor="end" textLength="56.0" lengthAdjust="spacingAndGlyphs">10</text><text x="176.5" y="476.4" text-anchor="end" textLength="56.0" lengthAdjust="spacingAndGlyphs">15</text><text x="176.5" y="159.5" text-anchor="end" textLength="56.0" lengthAdjust="spacingAndGlyphs">20</text><text x="813.4" y="115.6" text-anchor="middle" textLength="112.0" lengthAdjust="spacingAndGlyphs">1650</text><text transform="translate(261,553.6) rotate(-37)" x="0" y="20" text-anchor="middle" stroke="#fff" stroke-width="1.1" textLength="84.0" lengthAdjust="spacingAndGlyphs">490</text><text transform="translate(310.3,434.3) rotate(-37)" x="0" y="20" text-anchor="middle" stroke="#fff" stroke-width="1.1" textLength="84.0" lengthAdjust="spacingAndGlyphs">620</text></g>
<g font-family="'Liberation Serif', serif" font-size="72" fill="#000"><text x="817" y="1612.2" textLength="489" lengthAdjust="spacingAndGlyphs">Wavelength, cm</text><text x="1307.6" y="1585.9" font-size="51" textLength="34.5" lengthAdjust="spacingAndGlyphs">-1</text><text transform="translate(84,1022.6) rotate(-90)" x="0" y="0" textLength="538" lengthAdjust="spacingAndGlyphs">Transmittance, %</text><text x="1576.2" y="85.6" textLength="376" lengthAdjust="spacingAndGlyphs">SAPO-34-5h</text><text x="1570.3" y="182.0" textLength="439.5" lengthAdjust="spacingAndGlyphs">SAPO-34-B-5h</text></g>
<line x1="1376.6" y1="59.4" x2="1564.2" y2="59.4" stroke="#000" stroke-width="5"/>
<line x1="1371.2" y1="156.3" x2="1558.4" y2="156.3" stroke="#0000ff" stroke-width="3.6"/>
</svg>
</body>
</html>
